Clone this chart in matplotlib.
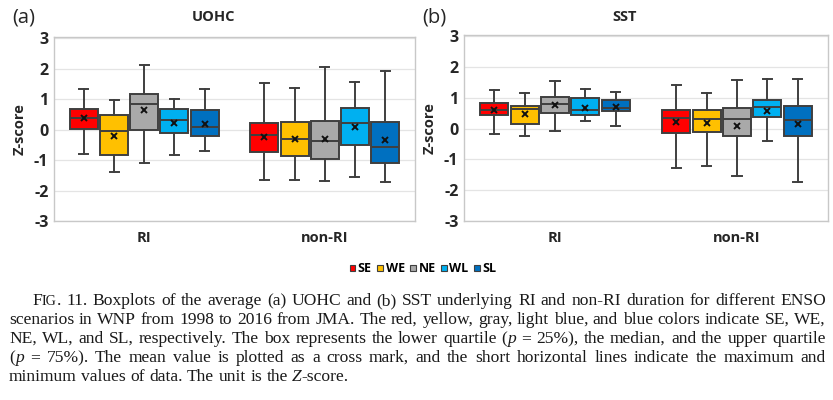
import re

import numpy as np
import matplotlib
matplotlib.use("Agg")
import matplotlib.pyplot as plt
from matplotlib.patches import Patch


GROUPS = ["RI", "non-RI"]
SCENARIOS = ["SE", "WE", "NE", "WL", "SL"]
COLORS = ["#FF0000", "#FFC000", "#A9A9A9", "#00B0F0", "#0070C0"]

# per box: RI SE..SL, then non-RI SE..SL
UOHC_MAX  = [1.34, 0.96, 2.13, 0.99, 1.34, 1.53, 1.38, 2.04, 1.56, 1.92]
UOHC_Q3   = [0.69, 0.47, 1.18, 0.69, 0.63, 0.23, 0.24, 0.28, 0.70, 0.26]
UOHC_MED  = [0.39, -0.04, 0.83, 0.33, 0.10, -0.17, -0.30, -0.36, 0.21, -0.57]
UOHC_Q1   = [0.03, -0.84, 0.00, -0.10, -0.21, -0.75, -0.85, -0.96, -0.50, -1.10]
UOHC_MIN  = [-0.79, -1.39, -1.08, -0.84, -0.70, -1.65, -1.66, -1.70, -1.57, -1.72]
UOHC_MEAN = [0.38, -0.21, 0.66, 0.23, 0.20, -0.24, -0.31, -0.30, 0.09, -0.35]

SST_MAX  = [1.25, 1.16, 1.55, 1.29, 1.19, 1.43, 1.16, 1.57, 1.61, 1.61]
SST_Q3   = [0.82, 0.75, 1.02, 1.01, 0.92, 0.61, 0.60, 0.67, 0.92, 0.75]
SST_MED  = [0.62, 0.64, 0.81, 0.59, 0.68, 0.35, 0.32, 0.30, 0.70, 0.28]
SST_Q1   = [0.43, 0.15, 0.51, 0.43, 0.56, -0.15, -0.12, -0.23, 0.38, -0.25]
SST_MIN  = [-0.17, -0.25, -0.09, 0.24, 0.07, -1.28, -1.20, -1.55, -0.40, -1.74]
SST_MEAN = [0.60, 0.48, 0.77, 0.68, 0.70, 0.21, 0.17, 0.10, 0.58, 0.16]

YTICKS = [-3, -2, -1, 0, 1, 2, 3]

# *x* = italic, ^x^ = small caps
CAPTION = [
    "F^IG^. 11. Boxplots of the average (a) UOHC and (b) SST underlying RI and non-RI duration for different ENSO",
    "scenarios in WNP from 1998 to 2016 from JMA. The red, yellow, gray, light blue, and blue colors indicate SE, WE,",
    "NE, WL, and SL, respectively. The box represents the lower quartile (*p* = 25%), the median, and the upper quartile",
    "(*p* = 75%). The mean value is plotted as a cross mark, and the short horizontal lines indicate the maximum and",
    "minimum values of data. The unit is the *Z*-score.",
]

W, H = 833, 400
EDGE = "#3F3F3F"
plt.rcParams["font.family"] = ["Open Sans", "DejaVu Sans"]

fig = plt.figure(figsize=(W / 100, H / 100), dpi=100)


def px_axes(left, top, right, bottom):
    return fig.add_axes([left / W, 1 - bottom / H, (right - left) / W, (bottom - top) / H])


def draw_panel(ax, vmin, q1, med, q3, vmax, mean):
    step = 0.167
    positions, stats = [], []
    for g in range(len(GROUPS)):
        for i in range(len(SCENARIOS)):
            k = g * len(SCENARIOS) + i
            positions.append(g + 0.5 + (i - 2) * step)
            stats.append(dict(whislo=vmin[k], q1=q1[k], med=med[k], q3=q3[k],
                              whishi=vmax[k], mean=mean[k]))
    bp = ax.bxp(stats, positions=positions, widths=0.155, patch_artist=True,
                showmeans=True, showfliers=False, capwidths=0.05,
                boxprops=dict(edgecolor=EDGE, linewidth=1.4),
                medianprops=dict(color=EDGE, linewidth=1.4),
                whiskerprops=dict(color=EDGE, linewidth=1.4),
                capprops=dict(color=EDGE, linewidth=1.4),
                meanprops=dict(marker="x", markeredgecolor="#111111", markersize=4.5,
                               markeredgewidth=1.4))
    for j, box in enumerate(bp["boxes"]):
        box.set_facecolor(COLORS[j % len(SCENARIOS)])

    ax.set_xlim(0, 2)
    ax.set_ylim(-3, 3.04)
    ax.set_yticks(YTICKS)
    ax.set_yticklabels([str(t) for t in YTICKS], fontsize=11.5, fontweight="bold", color="#262626")
    ax.set_xticks([0.5, 1.5])
    ax.set_xticklabels(GROUPS, fontsize=10.5, fontweight="bold", color="#262626")
    ax.tick_params(length=0)
    ax.tick_params(axis="x", pad=7)
    ax.tick_params(axis="y", pad=4)
    ax.grid(axis="y", color="#E4E4E4", linewidth=0.9)
    ax.set_axisbelow(True)
    for s in ax.spines.values():
        s.set_color("#C8C8C8")
        s.set_linewidth(1.0)
    ax.set_ylabel("Z-score", fontsize=10.5, fontweight="bold", color="#262626", labelpad=5)


ax1 = px_axes(54, 37, 415, 221)
draw_panel(ax1, UOHC_MIN, UOHC_Q1, UOHC_MED, UOHC_Q3, UOHC_MAX, UOHC_MEAN)
ax2 = px_axes(464, 35, 828, 221)
draw_panel(ax2, SST_MIN, SST_Q1, SST_MED, SST_Q3, SST_MAX, SST_MEAN)

fig.text(12 / W, 1 - 17 / H, "(a)", fontsize=14.5, va="center", ha="left", color="#262626")
fig.text(213 / W, 1 - 17 / H, "UOHC", fontsize=10.5, fontweight="bold", va="center", ha="center", color="#262626")
fig.text(422 / W, 1 - 17 / H, "(b)", fontsize=14.5, va="center", ha="left", color="#262626")
fig.text(625 / W, 1 - 17 / H, "SST", fontsize=10.5, fontweight="bold", va="center", ha="center", color="#262626")

handles = [Patch(facecolor=c, edgecolor=EDGE, linewidth=0.8) for c in COLORS]
fig.legend(handles, SCENARIOS, loc="center", bbox_to_anchor=(423 / W, 1 - 269 / H), ncol=5,
           frameon=False, handlelength=0.45, handleheight=0.45, handletextpad=0.2,
           columnspacing=0.45, prop=dict(family="Open Sans", weight="bold", size=9))

# caption, justified word by word
CAP_SIZE = 12.6
SERIF = "Liberation Serif"
fig.canvas.draw()
renderer = fig.canvas.get_renderer()


def word_segments(word):
    segs = []
    for part in re.split(r"(\*[^*]+\*|\^[^^]+\^)", word):
        if not part:
            continue
        if part.startswith("*"):
            segs.append((part[1:-1], dict(style="italic", size=CAP_SIZE)))
        elif part.startswith("^"):
            segs.append((part[1:-1], dict(size=CAP_SIZE * 0.8)))
        else:
            segs.append((part, dict(size=CAP_SIZE)))
    return segs


line_y = [305, 324, 343, 362, 381]
left_x, right_x, indent = 9, 826, 23
space_t = fig.text(0, 0, "a a", family=SERIF, size=CAP_SIZE)
aa_t = fig.text(0, 0, "aa", family=SERIF, size=CAP_SIZE)
space_w = space_t.get_window_extent(renderer).width - aa_t.get_window_extent(renderer).width
space_t.remove()
aa_t.remove()

for li, line in enumerate(CAPTION):
    words = line.split(" ")
    placed = []
    for w in words:
        texts = []
        wid = 0
        for s, kw in word_segments(w):
            t = fig.text(0, 1 - line_y[li] / H, s, family=SERIF, va="baseline",
                         ha="left", color="#1A1A1A", **kw)
            sw = t.get_window_extent(renderer).width
            texts.append((t, sw))
            wid += sw
        placed.append((texts, wid))
    x0 = left_x + (indent if li == 0 else 0)
    total = sum(p[1] for p in placed)
    if li < len(CAPTION) - 1:
        gap = max((right_x - x0 - total) / (len(placed) - 1), 1.5)
    else:
        gap = space_w
    x = x0
    for texts, wid in placed:
        for t, sw in texts:
            t.set_x(x / W)
            x += sw
        x += gap

fig.savefig("out.png", dpi=100)
